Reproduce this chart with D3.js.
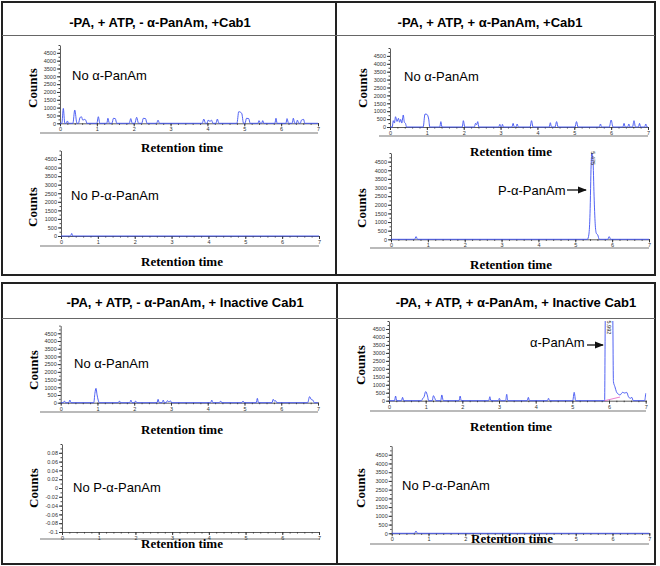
<!doctype html>
<html>
<head>
<meta charset="utf-8">
<script src="https://d3js.org/d3.v7.min.js"></script>
<style>
  body { margin: 0; background: #fff; }
  svg { display: block; }
  .tick text { font-family: "Liberation Sans", Arial, sans-serif; fill: #333; }
</style>
</head>
<body>
<svg width="660" height="566"></svg>
<script>

var titles = ["-PA, + ATP, - α-PanAm, +Cab1", "-PA, + ATP, + α-PanAm, +Cab1",
              "-PA, + ATP, - α-PanAm, + Inactive Cab1", "-PA, + ATP, + α-PanAm, + Inactive Cab1"];

var countTicks = [0, 500, 1000, 1500, 2000, 2500, 3000, 3500, 4000, 4500];
var smallTicks = [-0.1, -0.08, -0.06, -0.04, -0.02, 0, 0.02, 0.04, 0.06, 0.08];
var timeTicks = [0, 1, 2, 3, 4, 5, 6, 7];

// retention time (min), counts
var traceA = [[0,0],[0.05,0],[0.09,950],[0.13,0],[0.17,0],[0.2,150],[0.23,0],[0.35,0],[0.4,850],[0.46,0],
  [0.5,0],[0.54,350],[0.58,420],[0.62,200],[0.66,250],[0.7,200],[0.73,0],[1.0,0],[1.04,420],[1.08,0],
  [1.27,0],[1.3,320],[1.34,0],[1.41,0],[1.45,320],[1.5,300],[1.54,0],[1.88,0],[1.92,300],[1.96,0],
  [2.03,0],[2.08,380],[2.13,0],[2.22,0],[2.26,320],[2.32,300],[2.36,0],[2.62,0],[2.66,200],[2.7,0],
  [3.86,0],[3.9,270],[3.95,0],[3.99,0],[4.02,200],[4.07,120],[4.11,200],[4.15,0],[4.23,0],[4.27,270],[4.31,0],
  [4.8,0],[4.85,740],[4.93,640],[4.98,0],[5.02,0],[5.06,320],[5.12,300],[5.16,0],[5.37,0],[5.4,170],[5.44,0],
  [5.47,0],[5.5,170],[5.53,0],[5.83,0],[5.86,320],[5.89,0],[6.13,0],[6.16,300],[6.2,0],[6.3,0],[6.33,320],[6.37,0],
  [6.41,0],[6.44,200],[6.48,0],[6.52,0],[6.55,200],[6.61,250],[6.64,0],[7,0]];

var traceB = [[0,0],[0.26,0],[0.29,150],[0.32,0],[7,0]];

var traceC = [[0,0],[0.06,0],[0.09,400],[0.12,250],[0.15,650],[0.19,350],[0.23,550],[0.26,300],[0.29,480],[0.32,250],
  [0.36,760],[0.39,300],[0.42,230],[0.45,0],[0.9,0],[0.95,820],[1.0,800],[1.05,500],[1.08,0],[1.35,0],[1.38,340],[1.41,0],
  [1.96,0],[1.99,400],[2.03,0],[2.29,0],[2.32,230],[2.35,150],[2.38,340],[2.41,0],[2.95,0],[2.98,170],[3.01,0],
  [3.03,0],[3.05,170],[3.08,0],[3.31,0],[3.34,230],[3.37,0],[3.42,0],[3.45,190],[3.48,0],[3.8,0],[3.84,400],[3.88,0],
  [4.32,0],[4.35,270],[4.38,0],[4.48,0],[4.52,340],[4.56,0],[5.02,0],[5.06,340],[5.1,0],[5.68,0],[5.71,190],[5.74,0],
  [5.95,0],[6.0,440],[6.05,0],[6.32,0],[6.35,230],[6.38,0],[6.45,0],[6.48,190],[6.51,0],[6.58,0],[6.62,400],[6.66,0],
  [6.74,0],[6.77,230],[6.8,0],[6.91,0],[6.94,190],[6.97,0],[7,0]];

var traceD = [[0,0],[0.64,0],[0.68,155],[0.72,0],[5.33,0],[5.37,300],[5.4,1500],[5.43,4300],[5.45,5000],[5.48,4600],
  [5.51,2500],[5.54,900],[5.57,350],[5.61,250],[5.65,0],[5.88,0],[5.92,155],[5.96,0],[7,0]];

var traceE = [[0,0],[0.07,0],[0.1,110],[0.13,0],[0.22,0],[0.25,170],[0.28,0],[0.9,0],[0.93,600],[0.96,930],[0.99,500],
  [1.02,170],[1.05,0],[1.57,0],[1.6,110],[1.63,0],[1.88,0],[1.91,170],[1.94,0],[2.01,0],[2.04,110],[2.07,0],
  [2.62,0],[2.65,220],[2.68,0],[2.76,0],[2.79,170],[2.82,0],[2.87,0],[2.9,130],[2.94,60],[2.99,110],[3.02,0],
  [4.08,0],[4.11,170],[4.14,0],[4.32,0],[4.35,110],[4.38,0],[4.93,0],[4.96,110],[4.99,0],[5.32,0],[5.35,280],[5.38,0],
  [5.75,0],[5.78,220],[5.82,100],[5.85,130],[5.88,0],[6.72,0],[6.77,390],[6.82,200],[6.86,170],[6.9,0],[7,0]];

var traceF = [];

var traceG = [[0,0],[0.15,0],[0.18,290],[0.21,0],[0.34,0],[0.37,210],[0.4,0],[0.89,0],[0.92,150],[0.95,200],[1.0,570],
  [1.05,300],[1.08,0],[1.18,0],[1.21,315],[1.25,150],[1.28,0],[1.41,0],[1.44,360],[1.48,0],[1.91,0],[1.94,290],[1.97,0],
  [2.72,0],[2.75,250],[2.78,0],[2.98,0],[3.01,150],[3.04,0],[3.18,0],[3.21,400],[3.24,0],[3.77,0],[3.8,210],[3.83,0],
  [4.32,0],[4.35,150],[4.38,0],[5.01,0],[5.05,525],[5.09,0],[5.88,0],[5.9,5600],[5.95,6500],[6.0,6800],[6.05,6400],
  [6.1,5500],[6.12,1200],[6.16,880],[6.2,570],[6.26,400],[6.3,360],[6.37,525],[6.43,480],[6.48,525],[6.53,250],
  [6.58,150],[6.62,210],[6.66,0],[6.97,0],[7.0,460]];
var baselineG = [[5.88,0],[6.3,230]];

var traceH = [[0,0],[0.62,0],[0.66,130],[0.7,0],[7,0]];

var svg = d3.select("svg");

// frames
svg.append("rect").attr("x", 2).attr("y", 2).attr("width", 653).attr("height", 273)
  .attr("fill", "none").attr("stroke", "#222").attr("stroke-width", 2);
svg.append("rect").attr("x", 2).attr("y", 283).attr("width", 653).attr("height", 281)
  .attr("fill", "none").attr("stroke", "#222").attr("stroke-width", 2);
svg.append("line").attr("x1", 336).attr("x2", 336).attr("y1", 2).attr("y2", 275).attr("stroke", "#222").attr("stroke-width", 2);
svg.append("line").attr("x1", 337).attr("x2", 337).attr("y1", 283).attr("y2", 564).attr("stroke", "#222").attr("stroke-width", 2);
svg.append("line").attr("x1", 2).attr("x2", 655).attr("y1", 35.5).attr("y2", 35.5).attr("stroke", "#666").attr("stroke-width", 1);
svg.append("line").attr("x1", 2).attr("x2", 655).attr("y1", 318.5).attr("y2", 318.5).attr("stroke", "#666").attr("stroke-width", 1);

var titlePos = [[160, 27], [490, 27], [185, 307], [516, 307]];
titles.forEach(function(t, i) {
  svg.append("text")
    .attr("x", titlePos[i][0]).attr("y", titlePos[i][1])
    .attr("text-anchor", "middle")
    .style("font-family", "Liberation Sans, Arial, sans-serif")
    .style("font-weight", "bold")
    .style("font-size", "13px")
    .text(t);
});

var defs = svg.append("defs");
defs.append("marker").attr("id", "arrow")
  .attr("viewBox", "0 0 10 10").attr("refX", 9).attr("refY", 5)
  .attr("markerWidth", 7).attr("markerHeight", 7).attr("orient", "auto")
  .append("path").attr("d", "M0,1 L10,5 L0,9 Z").attr("fill", "#111");

var panels = [
  { id: "A", data: traceA, x0: 60, x1: 318, yb: 123.3, yt: 45, dom: [0, 5000], ticks: countTicks, minor: 250,
    rule: [40, 318, 133], counts: [32, 88], rt: [182, 152], note: "No α-PanAm", notePos: [72, 80] },
  { id: "B", data: traceB, x0: 61, x1: 319, yb: 236, yt: 150.5, dom: [0, 5000], ticks: countTicks, minor: 250,
    rule: [40, 319, 246], counts: [32, 207], rt: [182, 266], note: "No P-α-PanAm", notePos: [71, 200] },
  { id: "C", data: traceC, x0: 390, x1: 648, yb: 127, yt: 48, dom: [0, 5000], ticks: countTicks, minor: 250,
    rule: [379, 648, 136], counts: [362, 88], rt: [511, 156], note: "No α-PanAm", notePos: [404, 81] },
  { id: "D", data: traceD, x0: 391, x1: 649, yb: 239.3, yt: 153, dom: [0, 5000], ticks: countTicks, minor: 250,
    rule: [370, 649, 248], counts: [361, 208], rt: [511, 269], note: "P-α-PanAm", notePos: [498, 195],
    arrow: [567, 586, 190], peak: { t: 5.475, label: "5.475", v: 4700 } },
  { id: "E", data: traceE, x0: 60.7, x1: 318, yb: 402.7, yt: 325.6, dom: [0, 5000], ticks: countTicks, minor: 250,
    rule: [40, 318, 412], counts: [33, 370], rt: [182, 434], note: "No α-PanAm", notePos: [74, 368] },
  { id: "F", data: traceF, x0: 62, x1: 319, yb: 532, yt: 444, dom: [-0.1, 0.1], ticks: smallTicks, minor: 0.01,
    rule: [40, 320, 539], counts: [33, 488], rt: [182, 548], note: "No P-α-PanAm", notePos: [73, 492] },
  { id: "G", data: traceG, x0: 389, x1: 645.7, yb: 400.7, yt: 321, dom: [0, 5000], ticks: countTicks, minor: 250,
    rule: [370, 646, 411], counts: [360, 365], rt: [511, 431], note: "α-PanAm", notePos: [530, 347],
    arrow: [587, 603, 345], peak: { t: 5.99, label: "5.992", v: 4600 }, base: baselineG },
  { id: "H", data: traceH, x0: 391.7, x1: 649.3, yb: 533.3, yt: 446, dom: [0, 5000], ticks: countTicks, minor: 250,
    rule: [370, 649, 544], counts: [360, 488], rt: [512, 543], note: "No P-α-PanAm", notePos: [402, 490] }
];

function fmt(d) { return String(Math.round(d * 100) / 100); }

panels.forEach(function(p) {
  var x = d3.scaleLinear().domain([0, 7]).range([p.x0, p.x1]);
  var y = d3.scaleLinear().domain(p.dom).range([p.yb, p.yt]);
  var g = svg.append("g");

  // gray rule under the axis
  g.append("line").attr("x1", p.rule[0]).attr("x2", p.rule[1]).attr("y1", p.rule[2]).attr("y2", p.rule[2])
    .attr("stroke", "#777").attr("stroke-width", 1.2);

  // x axis
  var xMinor = d3.range(0, 7.001, 0.2);
  g.append("g").attr("transform", "translate(0," + p.yb + ")")
    .call(d3.axisBottom(x).tickValues(xMinor).tickSize(1.5).tickFormat(""))
    .call(function(a) { a.select(".domain").remove(); a.selectAll("line").attr("stroke", "#444"); });
  g.append("g").attr("transform", "translate(0," + p.yb + ")")
    .call(d3.axisBottom(x).tickValues(timeTicks).tickSize(3).tickSizeOuter(0).tickPadding(1).tickFormat(d3.format("d")))
    .call(function(a) {
      a.select(".domain").attr("stroke", "#333").attr("stroke-width", 0.8);
      a.selectAll("line").attr("stroke", "#333");
      a.selectAll("text").style("font-size", "5.5px");
    });

  // y axis
  var yMinor = d3.range(p.dom[0], p.dom[1] + p.minor / 2, p.minor);
  g.append("g").attr("transform", "translate(" + p.x0 + ",0)")
    .call(d3.axisLeft(y).tickValues(yMinor).tickSize(1.5).tickFormat(""))
    .call(function(a) { a.select(".domain").remove(); a.selectAll("line").attr("stroke", "#444"); });
  g.append("g").attr("transform", "translate(" + p.x0 + ",0)")
    .call(d3.axisLeft(y).tickValues(p.ticks).tickSize(3).tickSizeOuter(0).tickPadding(1).tickFormat(fmt))
    .call(function(a) {
      a.select(".domain").attr("stroke", "#333").attr("stroke-width", 0.8);
      a.selectAll("line").attr("stroke", "#333");
      a.selectAll("text").style("font-size", "5.5px");
    });

  // trace
  var clipId = "clip" + p.id;
  defs.append("clipPath").attr("id", clipId).append("rect")
    .attr("x", p.x0).attr("y", p.yt).attr("width", p.x1 - p.x0 + 2).attr("height", p.yb - p.yt + 2);
  var line = d3.line().x(function(d) { return x(d[0]); }).y(function(d) { return y(d[1]); }).curve(d3.curveMonotoneX);
  if (p.data.length) {
    g.append("path").datum(p.data).attr("clip-path", "url(#" + clipId + ")")
      .attr("d", line).attr("fill", "none").attr("stroke", "#3d50f2").attr("stroke-width", 0.9);
  }
  if (p.base) {
    g.append("path").datum(p.base).attr("d", d3.line().x(function(d) { return x(d[0]); }).y(function(d) { return y(d[1]); }))
      .attr("fill", "none").attr("stroke", "#e870c8").attr("stroke-width", 0.9);
  }
  if (p.peak) {
    g.append("text")
      .attr("transform", "translate(" + (x(p.peak.t) - 1.5) + "," + y(p.peak.v) + ") rotate(90)")
      .attr("text-anchor", "middle")
      .style("font-family", "Liberation Sans, Arial, sans-serif")
      .style("font-size", "5.5px").attr("fill", "#222")
      .text(p.peak.label);
  }

  // labels
  g.append("text")
    .attr("transform", "translate(" + p.counts[0] + "," + p.counts[1] + ") rotate(-90)")
    .attr("text-anchor", "middle").attr("dy", "0.35em")
    .style("font-family", "Liberation Serif, Times New Roman, serif")
    .style("font-weight", "bold").style("font-size", "13px")
    .text("Counts");
  g.append("text")
    .attr("x", p.rt[0]).attr("y", p.rt[1]).attr("text-anchor", "middle")
    .style("font-family", "Liberation Serif, Times New Roman, serif")
    .style("font-weight", "bold").style("font-size", "13px")
    .text("Retention time");
  g.append("text")
    .attr("x", p.notePos[0]).attr("y", p.notePos[1])
    .style("font-family", "Liberation Sans, Arial, sans-serif")
    .style("font-size", "13px")
    .text(p.note);
  if (p.arrow) {
    g.append("line").attr("x1", p.arrow[0]).attr("x2", p.arrow[1]).attr("y1", p.arrow[2]).attr("y2", p.arrow[2])
      .attr("stroke", "#111").attr("stroke-width", 1.3).attr("marker-end", "url(#arrow)");
  }
});

</script>
</body>
</html>
